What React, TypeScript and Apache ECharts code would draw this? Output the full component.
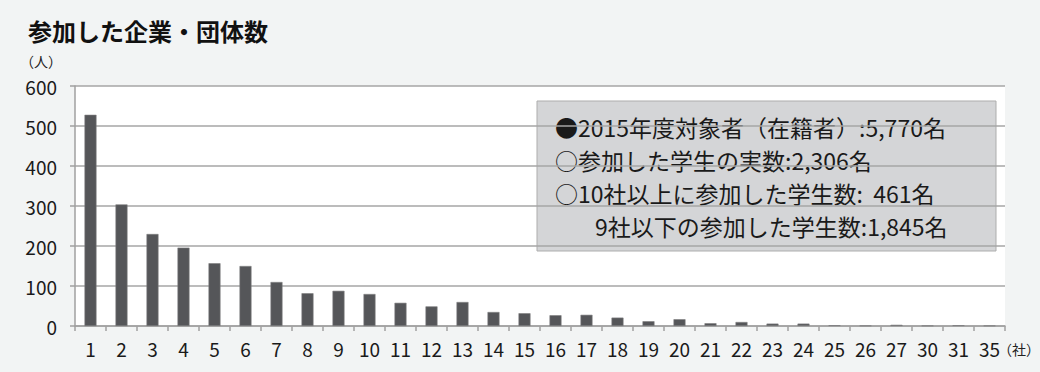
import React, { useEffect, useRef } from "react";
import * as echarts from "echarts";

const categories = ["1","2","3","4","5","6","7","8","9","10","11","12","13","14","15","16","17","18","19","20","21","22","23","24","25","26","27","30","31","35"];
const participants = [528,304,230,196,157,150,110,82,88,80,58,49,60,35,32,27,28,21,12,17,7,10,6,6,2,1,3,1,2,1];
const yTicks = { min: 0, max: 600, interval: 100 };
const titleText = "参加した企業・団体数";
const yUnit = "（人）";
const xUnit = "（社）";
const noteLines = [
  "●2015年度対象者（在籍者）:5,770名",
  "○参加した学生の実数:2,306名",
  "○10社以上に参加した学生数:  461名",
  "9社以下の参加した学生数:1,845名",
];

const FONT = "'Noto Sans CJK JP', 'Noto Sans', sans-serif";

export default function App() {
  const ref = useRef<HTMLDivElement>(null);
  useEffect(() => {
    document.body.style.margin = "0";
    if (!ref.current) return;
    const chart = echarts.init(ref.current, undefined, { renderer: "svg" });
    chart.setOption({
      animation: false,
      backgroundColor: "#f2f4f4",
      textStyle: { fontFamily: FONT },
      grid: {
        left: 75,
        right: 35,
        top: 86,
        bottom: 46,
        show: true,
        backgroundColor: "#ffffff",
        borderWidth: 0,
      },
      xAxis: {
        type: "category",
        data: categories,
        boundaryGap: true,
        axisLine: { show: true, lineStyle: { color: "#a0a0a0", width: 1.5 } },
        axisTick: { show: true, length: 5, interval: 0, lineStyle: { color: "#a0a0a0", width: 1.5 } },
        axisLabel: { interval: 0, color: "#1a1a1a", fontSize: 19, fontFamily: FONT, margin: 13 },
      },
      yAxis: {
        type: "value",
        min: yTicks.min,
        max: yTicks.max,
        interval: yTicks.interval,
        axisLine: { show: true, lineStyle: { color: "#a0a0a0", width: 1.5 } },
        axisTick: { show: true, length: 5, lineStyle: { color: "#a0a0a0", width: 1.5 } },
        axisLabel: { color: "#1a1a1a", fontSize: 19, fontFamily: FONT, margin: 18 },
        splitLine: { show: true, lineStyle: { color: "#a6a6a6", width: 1.5 } },
      },
      series: [
        {
          type: "bar",
          data: participants,
          barWidth: 12,
          itemStyle: { color: "#555659", borderColor: "#7d7e80", borderWidth: 0.6 },
        },
      ],
      graphic: [
        {
          type: "text",
          left: 28,
          top: 18,
          style: { text: titleText, font: `bold 24px ${FONT}`, fill: "#111" },
        },
        {
          type: "text",
          left: 20,
          top: 54,
          style: { text: yUnit, font: `14px ${FONT}`, fill: "#222" },
        },
        {
          type: "text",
          left: 998,
          top: 342,
          style: { text: xUnit, font: `14px ${FONT}`, fill: "#222" },
        },
        {
          type: "rect",
          shape: { x: 537, y: 101, width: 459, height: 150 },
          style: { fill: "#d4d5d7", stroke: "#adadad", lineWidth: 1 },
        },
        ...noteLines.map((t, i) => ({
          type: "text",
          x: i === 3 ? 595 : 555,
          y: 127 + i * 33,
          style: {
            text: t,
            font: `23px ${FONT}`,
            fill: "#1a1a1a",
            textVerticalAlign: "middle",
            verticalAlign: "middle",
          },
        })),
      ],
    });
    return () => chart.dispose();
  }, []);
  return <div ref={ref} style={{ width: 1040, height: 372 }} />;
}
